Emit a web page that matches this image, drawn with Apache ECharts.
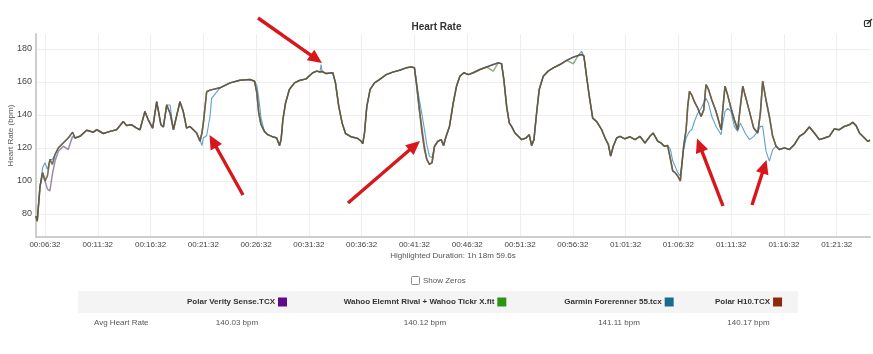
<!DOCTYPE html>
<html>
<head>
<meta charset="utf-8">
<title>Heart Rate</title>
<script src="https://cdn.jsdelivr.net/npm/echarts@6/dist/echarts.min.js"></script>
<style>
  html, body { margin: 0; padding: 0; background: #fff; }
  #chart { width: 873px; height: 354px; }
</style>
</head>
<body>
<div id="chart"></div>
<script>
// elapsed time in seconds, shared by all four recordings
const times = [
  341, 348, 364, 379, 392, 406, 420, 434, 449, 468,
  496, 524, 549, 563, 591, 629, 667, 686, 724, 762,
  799, 837, 856, 885, 913, 932, 960, 979, 1004, 1027,
  1051, 1065, 1084, 1103, 1122, 1159, 1178, 1197, 1216, 1235,
  1254, 1273, 1284, 1292, 1311, 1330, 1339, 1387, 1444, 1500,
  1557, 1583, 1596, 1607, 1620, 1639, 1658, 1687, 1709, 1725,
  1734, 1744, 1759, 1781, 1810, 1838, 1876, 1914, 1937, 1955, 1961, 1967,
  1990, 2028, 2043, 2062, 2081, 2100, 2132, 2170, 2189, 2198,
  2208, 2221, 2240, 2265, 2293, 2331, 2369, 2407, 2445, 2473,
  2492, 2505, 2520, 2535, 2549, 2562, 2577, 2592, 2606, 2625,
  2644, 2657, 2672, 2691, 2712, 2731, 2750, 2773, 2798, 2826,
  2864, 2902, 2940, 2968, 2987, 3000, 3016, 3031, 3044, 3063,
  3082, 3101, 3126, 3144, 3158, 3171, 3186, 3201, 3224, 3252,
  3281, 3319, 3357, 3395, 3423, 3442, 3455, 3470, 3486, 3505,
  3527, 3556, 3575, 3594, 3607, 3622, 3641, 3660, 3688, 3717,
  3745, 3774, 3802, 3830, 3849, 3875, 3893, 3912, 3931, 3947,
  3960, 3973, 3988, 4003, 4011, 4022, 4036, 4045, 4055, 4068,
  4083, 4102, 4121, 4136, 4149, 4163, 4182, 4206, 4235, 4244,
  4257, 4272, 4291, 4310, 4329, 4344, 4358, 4371, 4396, 4420,
  4443, 4458, 4471, 4490, 4509, 4528, 4547, 4566, 4594, 4623,
  4651, 4680, 4708, 4736, 4765, 4793, 4822, 4850, 4878, 4907,
  4935, 4963, 4983, 5002, 5021, 5040, 5068, 5081
]

const polarVerity = [
  78.6, 75.6, 96.8, 105, 100, 95, 94, 104, 112, 118,
  121, 119, 127, 126, 127, 130.7, 129.5, 131, 128.7, 130,
  131, 136, 133.5, 134, 132, 131, 142, 137, 132, 148,
  134, 132.7, 146, 141, 131, 148, 142, 132, 133, 131,
  129, 124, 129, 135, 154, 155, 155.4, 156.4, 159.4, 161,
  161.4, 160.4, 153.3, 141, 134, 130, 128, 126.7, 126, 121.4,
  125, 137, 147, 155.4, 159.4, 160.8, 161.8, 165.5, 166.5, 166, 166, 166.3,
  165, 165.5, 159.4, 145, 135, 128.7, 126.7, 125.7, 124, 122.6,
  129, 145, 155.4, 159.4, 161.4, 164.4, 165.9, 167, 168.5, 169,
  168.5, 157.4, 143, 132, 121, 113, 110, 111, 121, 124,
  125, 121.4, 127, 133, 147, 157.4, 163.4, 165.5, 164.4, 165.5,
  167.5, 169, 170.5, 171.5, 171, 161.4, 145, 135, 133, 129,
  127, 125, 126, 128, 121.4, 125, 141, 155.4, 163.4, 166.5,
  168.5, 170.5, 173, 175, 176, 176.6, 175.6, 163.4, 151, 138,
  136, 131, 126, 122, 115, 121, 126, 127, 125.5, 126.7,
  125, 127, 123, 127, 129, 124, 123, 121, 121.4, 113,
  106, 105, 103, 100, 109, 121, 131, 145, 154.3, 152,
  148, 144, 139, 143, 158.4, 155.4, 149, 142, 131, 143,
  157.4, 152, 144, 137, 131, 145, 157.4, 152, 142, 132,
  129, 141, 160.4, 149, 139, 127, 121, 119, 120, 119,
  122, 127, 129, 132.7, 129, 125, 126, 127, 131.5, 131,
  133, 134, 135.5, 133.5, 129, 127, 124, 124.6
]

const wahoo = [
  78.6, 75.6, 96.8, 105, 100, 103, 113, 110, 116, 120,
  123, 126, 129.5, 126, 127, 130.7, 129.5, 131, 128.7, 130,
  131, 136, 133.5, 134, 132, 131, 142, 137, 132, 148,
  134, 132.7, 146, 141, 131, 148, 142, 132, 133, 131,
  129, 124, 129, 135, 154, 155, 155.4, 156.4, 159.4, 161,
  161.4, 160.4, 153.3, 141, 134, 130, 128, 126.7, 126, 121.4,
  125, 137, 147, 155.4, 159.4, 160.8, 161.8, 165.5, 166.5, 166, 166, 166.3,
  165, 165.5, 159.4, 145, 135, 128.7, 126.7, 125.7, 124, 122.6,
  129, 145, 155.4, 159.4, 161.4, 164.4, 165.9, 167, 168.5, 169,
  168.5, 157.4, 143, 129, 119, 113, 110, 111, 121, 124,
  125, 121.4, 127, 133, 147, 157.4, 163.4, 165.5, 164.4, 165.5,
  167.5, 169, 166.5, 171.5, 171, 161.4, 145, 135, 133, 129,
  127, 125, 126, 128, 121.4, 125, 141, 155.4, 163.4, 166.5,
  168.5, 170.5, 173, 171, 176, 176.6, 175.6, 163.4, 151, 138,
  136, 131, 126, 122, 115, 121, 126, 127, 125.5, 126.7,
  125, 127, 123, 127, 129, 124, 123, 121, 121.4, 113,
  106, 105, 103, 100, 109, 121, 131, 145, 154.3, 152,
  148, 144, 139, 143, 158.4, 155.4, 149, 142, 131, 143,
  157.4, 152, 144, 137, 131, 145, 157.4, 152, 142, 132,
  129, 141, 160.4, 149, 139, 127, 121, 119, 120, 119,
  122, 127, 129, 132.7, 129, 125, 126, 127, 131.5, 131,
  133, 134, 135.5, 133.5, 129, 127, 124, 124.6
]

const garmin = [
  78.6, 75.6, 96.8, 108, 111, 107, 113, 113, 116, 120,
  123, 126, 129.5, 126, 127, 130.7, 129.5, 131, 128.7, 130,
  131, 136, 133.5, 134, 132, 131, 142, 137, 132, 148,
  134, 132.7, 146, 146, 131, 148, 142, 132, 133, 131,
  129, 125, 121.4, 126, 127.5, 139, 150, 156.4, 159.4, 161,
  161.4, 160.4, 158, 150, 138, 130, 128, 126.7, 126, 121.4,
  125, 137, 147, 155.4, 159.4, 160.8, 161.8, 165.5, 166.5, 166, 170.5, 166.3,
  165, 165.5, 159.4, 145, 135, 128.7, 126.7, 125.7, 124, 122.6,
  129, 145, 155.4, 159.4, 161.4, 164.4, 165.9, 167, 168.5, 169,
  168.5, 159, 149, 140, 131, 122, 115, 114, 121, 124,
  125, 121.4, 127, 133, 147, 157.4, 163.4, 165.5, 164.4, 165.5,
  167.5, 169, 170.5, 171.5, 171, 161.4, 145, 135, 133, 129,
  127, 125, 126, 128, 121.4, 125, 141, 155.4, 163.4, 166.5,
  168.5, 170.5, 173, 175, 176, 178.5, 175.6, 163.4, 151, 138,
  136, 131, 126, 122, 115, 121, 126, 127, 125.5, 126.7,
  125, 127, 123, 127, 129, 124, 123, 121, 121.4, 119,
  112, 109, 105, 103, 110, 119, 126, 128, 130, 131,
  136, 141, 144, 147, 150, 147, 139, 133, 128, 135,
  142, 144, 142, 133, 130, 135, 132, 129, 125, 127,
  130, 133, 133, 118, 112, 119, 121, 119, 120, 119,
  122, 127, 129, 132.7, 129, 125, 126, 127, 131.5, 131,
  133, 134, 135.5, 133.5, 129, 127, 124, 124.6
]

const polarH10 = [
  78.6, 75.6, 96.8, 105, 100, 103, 113, 110, 116, 120,
  123, 126, 129.5, 126, 127, 130.7, 129.5, 131, 128.7, 130,
  131, 136, 133.5, 134, 132, 131, 142, 137, 132, 148,
  134, 132.7, 146, 141, 131, 148, 142, 132, 133, 131,
  129, 124, 129, 135, 154, 155, 155.4, 156.4, 159.4, 161,
  161.4, 160.4, 153.3, 141, 134, 130, 128, 126.7, 126, 121.4,
  125, 137, 147, 155.4, 159.4, 160.8, 161.8, 165.5, 166.5, 166, 166, 166.3,
  165, 165.5, 159.4, 145, 135, 128.7, 126.7, 125.7, 124, 122.6,
  129, 145, 155.4, 159.4, 161.4, 164.4, 165.9, 167, 168.5, 169,
  168.5, 157.4, 143, 129, 119, 113, 110, 111, 121, 124,
  125, 121.4, 127, 133, 147, 157.4, 163.4, 165.5, 164.4, 165.5,
  167.5, 169, 170.5, 171.5, 171, 161.4, 145, 135, 133, 129,
  127, 125, 126, 128, 121.4, 125, 141, 155.4, 163.4, 166.5,
  168.5, 170.5, 173, 175, 176, 176.6, 175.6, 163.4, 151, 138,
  136, 131, 126, 122, 115, 121, 126, 127, 125.5, 126.7,
  125, 127, 123, 127, 129, 124, 123, 121, 121.4, 113,
  106, 105, 103, 100, 109, 121, 131, 145, 154.3, 152,
  148, 144, 139, 143, 158.4, 155.4, 149, 142, 131, 143,
  157.4, 152, 144, 137, 131, 145, 157.4, 152, 142, 132,
  129, 141, 160.4, 149, 139, 127, 121, 119, 120, 119,
  122, 127, 129, 132.7, 129, 125, 126, 127, 131.5, 131,
  133, 134, 135.5, 133.5, 129, 127, 124, 124.6
]

// axis ticks
const xTicks = [392, 692, 992, 1292, 1592, 1892, 2192, 2492, 2792, 3092, 3392, 3692, 3992, 4292, 4592, 4892]
const yTicks = [80, 100, 120, 140, 160, 180]

// summary table
const fileNames = ['Polar Verity Sense.TCX', 'Wahoo Elemnt Rival + Wahoo Tickr X.fit', 'Garmin Forerenner 55.tcx', 'Polar H10.TCX']
const avgHeartRate = [140.03, 140.12, 141.11, 140.17]
const durationText = 'Highlighted Duration: 1h 18m 59.6s'

// styling
const fileColors = ['#5e0b8c', '#2a9414', '#176d8e', '#8c2a0c']
const lineColors = ['#5b3a7c', '#4a7a36', '#4f97c2', '#6e4a2e']
const FONT = 'Liberation Sans, Arial, sans-serif'

const pad = n => String(n).padStart(2, '0')
const fmtTime = v => pad(Math.floor(v / 3600)) + ':' + pad(Math.floor(v % 3600 / 60)) + ':' + pad(Math.round(v % 60))

const seriesValues = [polarVerity, wahoo, garmin, polarH10]
// draw order: Garmin first so the thin blue line only shows where it differs
const drawOrder = [2, 0, 1, 3]

const chart = echarts.init(document.getElementById('chart'))

// red annotation arrows (pixel positions: tail x,y -> tip x,y)
const arrows = [
  [258, 18, 322, 63],
  [243, 195, 209.5, 135],
  [348, 203, 420, 141],
  [723, 206, 697, 138.5],
  [752, 205, 766.5, 160]
]

function arrowGraphic(a) {
  const [x1, y1, x2, y2] = a
  const dx = x2 - x1, dy = y2 - y1
  const len = Math.sqrt(dx * dx + dy * dy)
  const ux = dx / len, uy = dy / len
  const headLen = 14, headW = 6.5
  const bx = x2 - ux * headLen, by = y2 - uy * headLen
  return [
    {
      type: 'line',
      shape: { x1: x1, y1: y1, x2: bx + ux * 2, y2: by + uy * 2 },
      style: { stroke: '#d7171b', lineWidth: 3.4 },
      z: 100
    },
    {
      type: 'polygon',
      shape: { points: [[x2, y2], [bx - uy * headW, by + ux * headW], [bx + uy * headW, by - ux * headW]] },
      style: { fill: '#d7171b' },
      z: 100
    }
  ]
}

let graphics = []
arrows.forEach(a => { graphics = graphics.concat(arrowGraphic(a)) })

// edit icon top right
graphics.push({
  type: 'rect',
  shape: { x: 864.5, y: 20.5, width: 6, height: 6, r: 1 },
  style: { fill: 'none', stroke: '#333', lineWidth: 1.2 }
})
graphics.push({
  type: 'line',
  shape: { x1: 867, y1: 24, x2: 872, y2: 19 },
  style: { stroke: '#333', lineWidth: 1.4 }
})

// show zeros checkbox
graphics.push({
  type: 'rect',
  shape: { x: 411.5, y: 276.5, width: 8, height: 8, r: 1 },
  style: { fill: '#fff', stroke: '#8a8a8a', lineWidth: 1 }
})
graphics.push({
  type: 'text',
  style: { text: 'Show Zeros', x: 423, y: 281, fontSize: 8, fontFamily: FONT, fill: '#555', verticalAlign: 'middle' }
})

// table
const colCenters = [237, 425, 619, 748.5]
graphics.push({
  type: 'rect',
  shape: { x: 78, y: 291, width: 720, height: 22 },
  style: { fill: '#f4f4f4' }
})
fileNames.forEach((name, i) => {
  graphics.push({
    type: 'text',
    style: {
      text: '{n|' + name + '}{g|}{s|}',
      x: colCenters[i],
      y: 302,
      align: 'center',
      verticalAlign: 'middle',
      rich: {
        n: { fontSize: 8, fontWeight: 'bold', fontFamily: FONT, fill: '#333' },
        g: { width: 3, height: 9 },
        s: { width: 9, height: 9, backgroundColor: fileColors[i] }
      }
    }
  })
  graphics.push({
    type: 'text',
    style: {
      text: avgHeartRate[i].toFixed(2) + ' bpm',
      x: colCenters[i],
      y: 323,
      align: 'center',
      verticalAlign: 'middle',
      fontSize: 8,
      fontFamily: FONT,
      fill: '#555'
    }
  })
})
graphics.push({
  type: 'text',
  style: { text: 'Avg Heart Rate', x: 94, y: 323, verticalAlign: 'middle', fontSize: 8, fontFamily: FONT, fill: '#555' }
})

chart.setOption({
  animation: false,
  textStyle: { fontFamily: FONT },
  title: {
    text: 'Heart Rate',
    left: 'center',
    top: 17,
    textStyle: { fontSize: 10, fontWeight: 'bold', color: '#333', fontFamily: FONT }
  },
  grid: { left: 36, top: 34, width: 834, height: 203, containLabel: false, outerBoundsMode: 'none' },
  xAxis: {
    type: 'value',
    min: 341,
    max: 5081,
    name: durationText,
    nameLocation: 'middle',
    nameGap: 15,
    nameMoveOverlap: false,
    nameTextStyle: { fontSize: 8, color: '#555', fontFamily: FONT },
    axisLine: { lineStyle: { color: '#cdcdcd', width: 2 } },
    axisTick: { show: false, customValues: xTicks },
    axisLabel: { customValues: xTicks, formatter: fmtTime, fontSize: 8, color: '#444', margin: 4 },
    splitLine: { show: true, lineStyle: { color: '#eeeeee', width: 1 } }
  },
  yAxis: {
    type: 'value',
    min: 66,
    max: 189,
    name: 'Heart Rate (bpm)',
    nameLocation: 'middle',
    nameGap: 21,
    nameMoveOverlap: false,
    nameTextStyle: { fontSize: 8, color: '#555', fontFamily: FONT },
    axisLine: { show: true, lineStyle: { color: '#cdcdcd', width: 2 } },
    axisTick: { show: false, customValues: yTicks },
    axisLabel: { customValues: yTicks, fontSize: 9, color: '#444', margin: 4 },
    splitLine: { show: true, lineStyle: { color: '#eeeeee', width: 1 } }
  },
  series: drawOrder.map((i, order) => ({
    name: fileNames[i],
    type: 'line',
    showSymbol: false,
    symbol: 'none',
    data: times.map((t, k) => [t, seriesValues[i][k]]),
    lineStyle: { color: lineColors[i], width: i === 2 ? 1.1 : 1.5, opacity: i === 2 ? 0.9 : 0.6 },
    itemStyle: { color: lineColors[i] },
    z: 2 + order
  })),
  graphic: graphics
})
</script>
</body>
</html>
